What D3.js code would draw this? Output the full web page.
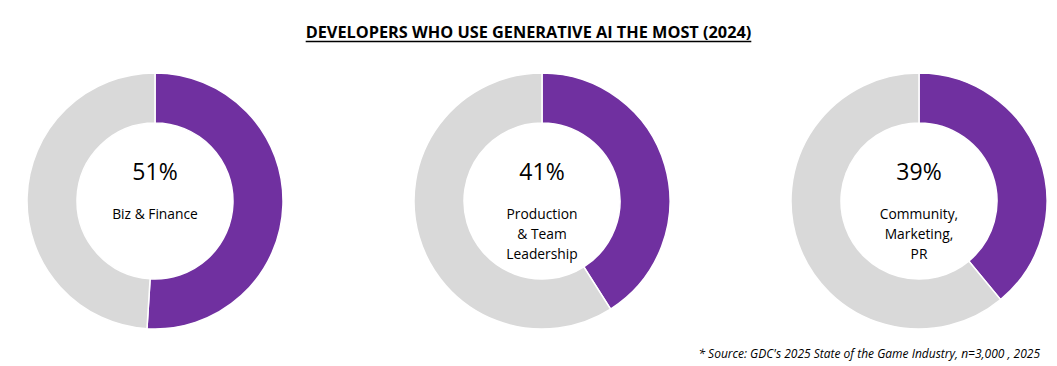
<!DOCTYPE html>
<html><head><meta charset="utf-8">
<script src="https://cdn.jsdelivr.net/npm/d3@7"></script>
<style>body{margin:0;background:#fff}svg{display:block}</style>
</head><body>
<svg id="c" width="1057" height="366"></svg>
<script>
const categories = ["Biz & Finance", "Production\n& Team\nLeadership", "Community,\nMarketing,\nPR"];
const values = [51, 41, 39];
const titleText = "DEVELOPERS WHO USE GENERATIVE AI THE MOST (2024)";
const sourceText = "* Source: GDC's 2025 State of the Game Industry, n=3,000 , 2025";

const W = 1057, H = 366;
const svg = d3.select("#c");
const font = "'Open Sans', 'Noto Sans', sans-serif";

const t = svg.append("text").attr("x", 528.5).attr("y", 38).attr("text-anchor", "middle")
  .attr("font-family", font).attr("font-weight", 700).attr("font-size", 16.3)
  .attr("fill", "#000").text(titleText);
const tb = t.node().getBBox();
svg.append("line").attr("x1", tb.x).attr("x2", tb.x + tb.width)
  .attr("y1", 41.5).attr("y2", 41.5).attr("stroke", "#000").attr("stroke-width", 1.3);

const cx = d3.scaleOrdinal().domain(categories).range([155, 542, 919]);
const cy = 201, rOuter = 128, rInner = 78;
const pie = d3.pie().sort(null).value(d => d);
const arc = d3.arc().innerRadius(rInner).outerRadius(rOuter);
const colors = ["#7030A0", "#D9D9D9"];

categories.forEach((cat, i) => {
  const g = svg.append("g").attr("transform", `translate(${cx(cat)},${cy})`);
  g.selectAll("path").data(pie([values[i], 100 - values[i]])).join("path")
    .attr("d", arc).attr("fill", (d, j) => colors[j])
    .attr("stroke", "#fff").attr("stroke-width", 1.5);
  g.append("text").attr("y", -21).attr("text-anchor", "middle")
    .attr("font-family", font).attr("font-size", 23).attr("fill", "#000")
    .text(values[i] + "%");
  const lines = cat.split("\n");
  const tx = g.append("text").attr("text-anchor", "middle")
    .attr("font-family", font).attr("font-size", 13.8).attr("fill", "#000");
  lines.forEach((l, k) => tx.append("tspan").attr("x", 0).attr("y", 18 + k * 20).text(l));
});

svg.append("text").attr("x", 1040).attr("y", 358).attr("text-anchor", "end")
  .attr("font-family", font).attr("font-style", "italic").attr("font-size", 12)
  .attr("fill", "#000").text(sourceText);
</script>
</body></html>
